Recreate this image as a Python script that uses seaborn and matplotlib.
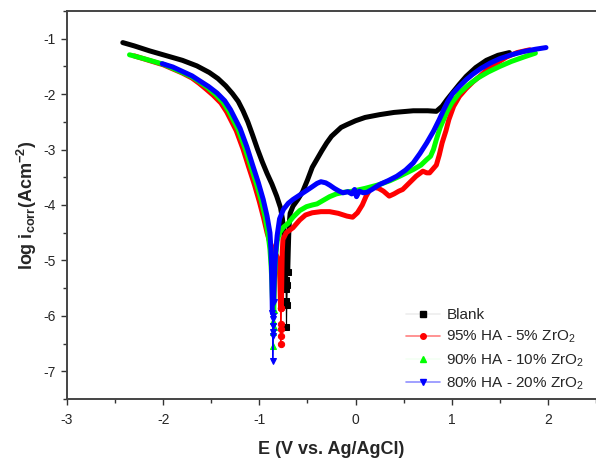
import matplotlib
matplotlib.use("Agg")
import matplotlib.pyplot as plt
from matplotlib.ticker import MultipleLocator
from matplotlib.lines import Line2D
import seaborn as sns
import pandas as pd

# ---------------- data ----------------
series_names = ["Blank", "95% HA - 5% ZrO$_2$", "90% HA - 10% ZrO$_2$", "80% HA - 20% ZrO$_2$"]

# Blank
blank_cath_E = [-2.42, -2.3, -2.14, -2.0, -1.80, -1.65, -1.52, -1.43, -1.35, -1.28, -1.22, -1.17, -1.12, -1.07, -1.02, -0.97, -0.92, -0.87, -0.82, -0.78, -0.76, -0.745, -0.737, -0.732, -0.728]
blank_cath_logi = [-1.07, -1.13, -1.22, -1.29, -1.39, -1.49, -1.61, -1.72, -1.85, -1.99, -2.13, -2.30, -2.50, -2.74, -2.99, -3.22, -3.43, -3.62, -3.84, -4.05, -4.25, -4.5, -4.8, -5.05, -5.35]
blank_tip_E = [-0.728, -0.722, -0.72, -0.718, -0.715, -0.71, -0.705]
blank_tip_logi = [-5.35, -5.52, -5.74, -6.21, -5.8, -5.45, -5.2]
blank_anod_E = [-0.705, -0.70, -0.695, -0.69, -0.68, -0.65, -0.60, -0.55, -0.50, -0.45, -0.40, -0.35, -0.30, -0.25, -0.20, -0.15, -0.09, 0.0, 0.1, 0.25, 0.4, 0.6, 0.75, 0.84, 0.90, 0.95, 1.01, 1.08, 1.15, 1.25, 1.36, 1.48, 1.60]
blank_anod_logi = [-5.2, -4.85, -4.55, -4.35, -4.15, -4.02, -3.9, -3.76, -3.55, -3.32, -3.17, -3.02, -2.88, -2.76, -2.68, -2.6, -2.55, -2.48, -2.42, -2.37, -2.33, -2.30, -2.30, -2.31, -2.22, -2.1, -1.97, -1.82, -1.68, -1.52, -1.39, -1.30, -1.25]

# 95% HA - 5% ZrO2
r5_cath_E = [-2.3, -2.0, -1.80, -1.70, -1.63, -1.56, -1.48, -1.40, -1.34, -1.29, -1.24, -1.17, -1.11, -1.05, -1.0, -0.955, -0.92, -0.895, -0.87, -0.84, -0.81, -0.795, -0.787, -0.783, -0.78]
r5_cath_logi = [-1.31, -1.47, -1.62, -1.71, -1.80, -1.90, -2.02, -2.16, -2.32, -2.49, -2.66, -2.99, -3.32, -3.64, -3.94, -4.24, -4.5, -4.65, -4.75, -4.85, -4.95, -5.1, -5.35, -5.6, -5.85]
r5_tip_E = [-0.78, -0.779, -0.778, -0.777, -0.774, -0.771]
r5_tip_logi = [-5.85, -6.24, -6.37, -6.51, -6.15, -5.85]
r5_anod_E = [-0.771, -0.768, -0.765, -0.762, -0.755, -0.72, -0.65, -0.58, -0.52, -0.45, -0.36, -0.27, -0.18, -0.09, -0.03, 0.02, 0.07, 0.11, 0.15, 0.19, 0.24, 0.29, 0.35, 0.40, 0.45, 0.49, 0.56, 0.63, 0.70, 0.74, 0.77, 0.81, 0.84, 0.87, 0.90, 0.94, 0.97, 1.02, 1.08, 1.15, 1.22, 1.29, 1.36, 1.45, 1.57, 1.68, 1.81]
r5_anod_logi = [-5.85, -5.5, -5.15, -4.85, -4.62, -4.5, -4.41, -4.27, -4.18, -4.14, -4.12, -4.12, -4.15, -4.2, -4.22, -4.14, -4.0, -3.84, -3.72, -3.68, -3.7, -3.75, -3.84, -3.8, -3.75, -3.72, -3.6, -3.48, -3.39, -3.42, -3.42, -3.34, -3.28, -3.1, -2.88, -2.66, -2.46, -2.22, -2.04, -1.9, -1.78, -1.68, -1.57, -1.46, -1.33, -1.25, -1.2]

# 90% HA - 10% ZrO2
g10_cath_E = [-2.35, -2.2, -2.0, -1.80, -1.70, -1.62, -1.54, -1.46, -1.38, -1.32, -1.27, -1.22, -1.15, -1.09, -1.03, -0.98, -0.94, -0.91, -0.89, -0.878, -0.87, -0.864, -0.86]
g10_cath_logi = [-1.29, -1.36, -1.46, -1.61, -1.69, -1.78, -1.88, -2.0, -2.14, -2.30, -2.47, -2.64, -2.97, -3.3, -3.62, -3.92, -4.22, -4.52, -4.8, -5.1, -5.4, -5.7, -5.9]
g10_tip_E = [-0.86, -0.858, -0.856, -0.855, -0.853, -0.85]
g10_tip_logi = [-5.9, -6.1, -6.3, -6.55, -6.2, -5.9]
g10_anod_E = [-0.85, -0.845, -0.838, -0.83, -0.815, -0.79, -0.75, -0.70, -0.65, -0.58, -0.51, -0.45, -0.40, -0.34, -0.27, -0.20, -0.12, -0.03, 0.1, 0.25, 0.36, 0.46, 0.60, 0.68, 0.74, 0.78, 0.81, 0.84, 0.88, 0.92, 0.95, 1.0, 1.08, 1.17, 1.27, 1.38, 1.5, 1.62, 1.75, 1.87]
g10_anod_logi = [-5.9, -5.55, -5.2, -4.9, -4.65, -4.5, -4.4, -4.33, -4.22, -4.1, -4.03, -4.0, -3.98, -3.92, -3.85, -3.8, -3.77, -3.75, -3.7, -3.63, -3.56, -3.48, -3.36, -3.28, -3.18, -3.12, -3.0, -2.82, -2.6, -2.44, -2.32, -2.16, -1.98, -1.84, -1.71, -1.6, -1.5, -1.41, -1.33, -1.26]

# 80% HA - 20% ZrO2
b20_cath_E = [-2.01, -1.9, -1.80, -1.70, -1.62, -1.53, -1.44, -1.36, -1.30, -1.25, -1.20, -1.13, -1.07, -1.01, -0.96, -0.92, -0.89, -0.88, -0.874, -0.87, -0.867, -0.865]
b20_cath_logi = [-1.45, -1.51, -1.59, -1.67, -1.76, -1.86, -1.98, -2.12, -2.28, -2.45, -2.62, -2.95, -3.28, -3.6, -3.9, -4.2, -4.5, -4.8, -5.1, -5.4, -5.7, -5.95]
b20_tip_E = [-0.865, -0.863, -0.862, -0.861, -0.86, -0.857, -0.855, -0.852]
b20_tip_logi = [-5.95, -6.05, -6.19, -6.37, -6.82, -6.3, -6.0, -5.75]
b20_anod_E = [-0.852, -0.847, -0.84, -0.83, -0.815, -0.79, -0.75, -0.70, -0.65, -0.58, -0.51, -0.45, -0.40, -0.36, -0.31, -0.27, -0.22, -0.17, -0.13, -0.08, -0.04, -0.01, 0.01, 0.04, 0.08, 0.12, 0.17, 0.25, 0.34, 0.43, 0.52, 0.60, 0.67, 0.74, 0.81, 0.87, 0.92, 0.96, 1.01, 1.08, 1.15, 1.22, 1.30, 1.40, 1.50, 1.62, 1.75, 1.87, 1.98]
b20_anod_logi = [-5.75, -5.45, -5.15, -4.85, -4.55, -4.25, -4.08, -3.97, -3.9, -3.82, -3.74, -3.67, -3.61, -3.58, -3.6, -3.64, -3.7, -3.75, -3.78, -3.76, -3.8, -3.72, -3.85, -3.75, -3.78, -3.77, -3.72, -3.63, -3.56, -3.48, -3.37, -3.24, -3.07, -2.88, -2.67, -2.46, -2.27, -2.13, -1.99, -1.86, -1.74, -1.64, -1.54, -1.44, -1.36, -1.29, -1.23, -1.19, -1.16]

x_ticks = [-3, -2, -1, 0, 1, 2]
y_ticks = [-7, -6, -5, -4, -3, -2, -1]

# ---------------- build long-form table ----------------
parts = [
    (series_names[0], blank_cath_E, blank_cath_logi, blank_tip_E, blank_tip_logi, blank_anod_E, blank_anod_logi),
    (series_names[1], r5_cath_E, r5_cath_logi, r5_tip_E, r5_tip_logi, r5_anod_E, r5_anod_logi),
    (series_names[2], g10_cath_E, g10_cath_logi, g10_tip_E, g10_tip_logi, g10_anod_E, g10_anod_logi),
    (series_names[3], b20_cath_E, b20_cath_logi, b20_tip_E, b20_tip_logi, b20_anod_E, b20_anod_logi),
]
rows = []
for name, cE, cL, tE, tL, aE, aL in parts:
    for seg, Es, Ls in (("cath", cE, cL), ("tip", tE, tL), ("anod", aE, aL)):
        for e, l in zip(Es, Ls):
            rows.append({"series": name, "seg": seg, "E": e, "logi": l})
df = pd.DataFrame(rows)

colors = {series_names[0]: "#000000", series_names[1]: "#ff0000",
          series_names[2]: "#00ff00", series_names[3]: "#0000ff"}
light = {series_names[0]: "#eeeeee", series_names[1]: "#ff8080",
         series_names[2]: "#f4fff4", series_names[3]: "#9090ff"}
markers = {series_names[0]: "s", series_names[1]: "o",
           series_names[2]: "^", series_names[3]: "v"}

# ---------------- style ----------------
sns.set_style("white")
plt.rcParams["font.family"] = ["Liberation Sans", "DejaVu Sans"]
plt.rcParams["mathtext.default"] = "regular"

fig = plt.figure(figsize=(5.96, 4.58), dpi=100)
ax = fig.add_axes([67 / 596, 1 - 399 / 458, (596 - 67) / 596, (399 - 11) / 458])

for name in series_names:
    c = colors[name]
    sub = df[df["series"] == name]
    thick = sub[sub["seg"] != "tip"]
    tip = sub[sub["seg"] == "tip"]
    sns.lineplot(data=thick, x="E", y="logi", units="seg", estimator=None, sort=False,
                 color=c, lw=3.6, ax=ax, legend=False, solid_capstyle="round",
                 solid_joinstyle="round")
    sns.lineplot(data=tip, x="E", y="logi", estimator=None, sort=False,
                 color=c, lw=0.8, marker=markers[name], markersize=4.5,
                 markeredgecolor=c, markerfacecolor=c, ax=ax, legend=False)

ax.set_xlim(-3, 2.5)
ax.set_ylim(-7.5, -0.5)
ax.set_xticks(x_ticks)
ax.set_yticks(y_ticks)
ax.set_xticklabels([str(t) for t in x_ticks])
ax.set_yticklabels([str(t) for t in y_ticks])
ax.xaxis.set_minor_locator(MultipleLocator(0.5))
ax.yaxis.set_minor_locator(MultipleLocator(0.5))
ax.tick_params(which="major", direction="out", length=4.5, width=1.0, color="#333333",
               labelsize=10, bottom=True, left=True, top=False, right=False)
ax.tick_params(axis="x", which="major", pad=5.5)
ax.tick_params(axis="y", which="major", pad=3.5)
ax.tick_params(which="minor", direction="out", length=2.8, width=1.0, color="#333333",
               bottom=True, left=True, top=False, right=False)
for side in ("left", "bottom", "top"):
    ax.spines[side].set_color("#444444")
    ax.spines[side].set_linewidth(1.4)
ax.spines["right"].set_visible(False)

ax.set_xlabel("E (V vs. Ag/AgCl)", fontsize=13, fontweight="bold", labelpad=10)
ax.set_ylabel(r"log i$_{corr}$(Acm$^{-2}$)", fontsize=13, fontweight="bold", labelpad=3)

handles = [Line2D([], [], color=light[n], lw=1.2, marker=markers[n], markersize=4,
                  markerfacecolor=colors[n], markeredgecolor=colors[n]) for n in series_names]
leg = ax.legend(handles, series_names, loc="upper left",
                bbox_to_anchor=(406 / 596, 1 - 308 / 458), bbox_transform=fig.transFigure,
                frameon=False, fontsize=11, borderpad=0, borderaxespad=0,
                handlelength=2.2, handletextpad=0.45, labelspacing=0.45)

fig.savefig("out.png", dpi=100)
